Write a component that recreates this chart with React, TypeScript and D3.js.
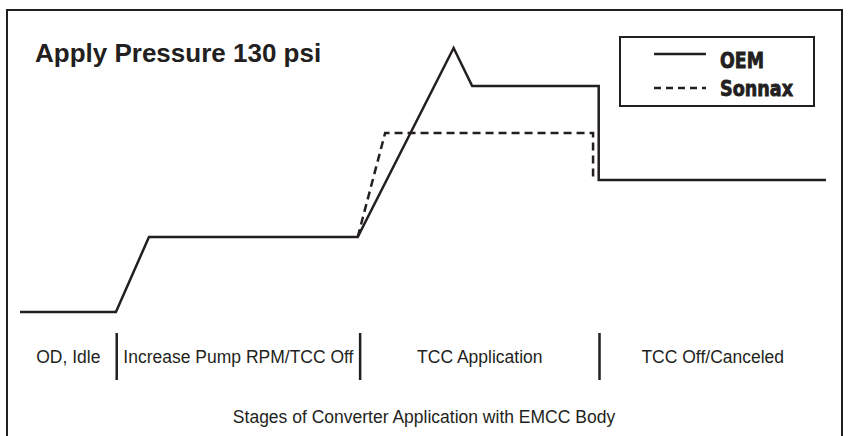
import React from 'react';
import * as d3 from 'd3';

// time runs 0..100 across the plot, pressure in relative units 0..100
const oemTime = [0, 11.9, 16.0, 41.9, 53.8, 56.1, 71.8, 71.8, 100];
const oemPressure = [0, 0, 28.4, 28.4, 100, 85.6, 85.6, 50, 50];

const sonnaxTime = [41.9, 45.3, 71.1, 71.1];
const sonnaxPressure = [28.4, 67.8, 67.8, 50];

const stageBounds = [0, 12, 42.2, 71.9, 100];
const stageLabels = ['OD, Idle', 'Increase Pump RPM/TCC Off', 'TCC Application', 'TCC Off/Canceled'];

const title = 'Apply Pressure 130 psi';
const caption = 'Stages of Converter Application with EMCC Body';
const seriesNames = ['OEM', 'Sonnax'];

const W = 848;
const H = 436;
const ink = '#231f20';
const sans = '"Liberation Sans", Arial, Helvetica, sans-serif';
const narrow = '"Liberation Sans Narrow", "DejaVu Sans Condensed", sans-serif';

const App: React.FC = () => {
  const x = d3.scaleLinear().domain([0, 100]).range([20, 826]);
  const y = d3.scaleLinear().domain([0, 100]).range([312, 48]);

  const line = d3
    .line<[number, number]>()
    .x((d) => x(d[0]))
    .y((d) => y(d[1]));

  const oem = line(oemTime.map((t, i) => [t, oemPressure[i]]));
  const sonnax = line(sonnaxTime.map((t, i) => [t, sonnaxPressure[i]]));

  const dividers = stageBounds.slice(1, -1);
  const centers = stageLabels.map((_, i) => (stageBounds[i] + stageBounds[i + 1]) / 2);

  return (
    <svg
      width={W}
      height={H}
      style={{ position: 'absolute', left: 0, top: 0, display: 'block', background: '#fff' }}
    >
      {/* outer frame, bottom edge runs off the page */}
      <path d="M7,440 V10 H842 V440" fill="none" stroke={ink} strokeWidth={2} />

      <text x={35} y={62} fontFamily={sans} fontWeight="bold" fontSize={26} fill={ink}>
        {title}
      </text>

      {/* legend */}
      <rect x={620} y={37} width={194} height={69} fill="#fff" stroke={ink} strokeWidth={2} />
      <line x1={654} x2={706} y1={54} y2={54} stroke={ink} strokeWidth={2.5} />
      <line x1={654} x2={706} y1={88} y2={88} stroke={ink} strokeWidth={2.5} strokeDasharray="7,5" />
      <text
        x={720}
        y={68}
        fontFamily={narrow}
        fontWeight="bold"
        fontSize={22}
        fill={ink}
        stroke={ink}
        strokeWidth={0.8}
        textLength={44}
        lengthAdjust="spacingAndGlyphs"
      >
        {seriesNames[0]}
      </text>
      <text
        x={720}
        y={96}
        fontFamily={narrow}
        fontWeight="bold"
        fontSize={22}
        fill={ink}
        stroke={ink}
        strokeWidth={0.8}
        textLength={73}
        lengthAdjust="spacingAndGlyphs"
      >
        {seriesNames[1]}
      </text>

      {/* series */}
      <path d={oem ?? ''} fill="none" stroke={ink} strokeWidth={2.5} strokeLinejoin="miter" />
      <path
        d={sonnax ?? ''}
        fill="none"
        stroke={ink}
        strokeWidth={2.5}
        strokeDasharray="8,5"
      />

      {/* stage dividers and labels */}
      {dividers.map((d, i) => (
        <line key={i} x1={x(d)} x2={x(d)} y1={333} y2={380} stroke={ink} strokeWidth={2.5} />
      ))}
      {stageLabels.map((s, i) => (
        <text
          key={s}
          x={x(centers[i])}
          y={363}
          textAnchor="middle"
          fontFamily={sans}
          fontSize={17.5}
          fill={ink}
        >
          {s}
        </text>
      ))}

      <text x={424} y={423} textAnchor="middle" fontFamily={sans} fontSize={17.5} fill={ink}>
        {caption}
      </text>
    </svg>
  );
};

export default App;
